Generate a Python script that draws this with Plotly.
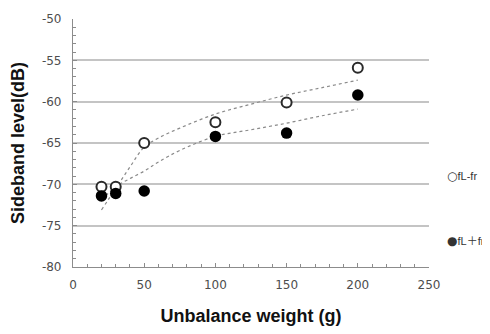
import plotly.graph_objects as go

# ---- data ----
weights = [20, 30, 50, 100, 150, 200]
fl_minus_fr = [-70.3, -70.3, -65.0, -62.5, -60.1, -55.9]
fl_plus_fr = [-71.4, -71.1, -70.8, -64.2, -63.8, -59.2]

trend_x = [20, 30, 40, 50, 60, 75, 100, 125, 150, 175, 200]
trend_minus = [-73.1, -70.5, -67.9, -65.5, -64.4, -63.2, -61.5, -60.3, -59.2, -58.3, -57.4]
trend_plus = [-71.9, -70.3, -69.3, -68.4, -67.3, -65.9, -64.2, -63.4, -62.6, -61.7, -60.9]

y_tick_vals = [-80, -75, -70, -65, -60, -55, -50]
y_tick_text = ["-80", "-75", "-70", "-65", "-60", "-55", "-50"]
x_tick_vals = [0, 50, 100, 150, 200, 250]
x_tick_text = ["0", "50", "100", "150", "200", "250"]

legend_symbols = ["\u25cb", "\u25cf"]
legend_labels = ["fL-fr", "fL\uff0bfr"]
legend_y = [-69.0, -76.9]

FONT = "DejaVu Sans, Arial, sans-serif"
TITLE_FONT = "Liberation Sans, Arial, sans-serif"
LEGEND_FONT = "Liberation Sans, Noto Sans CJK JP, sans-serif"

fig = go.Figure()

fig.add_trace(go.Scatter(
    x=trend_x, y=trend_minus, mode="lines", line_shape="spline",
    line=dict(color="#8a8a8a", width=1.2, dash="3px,3px"),
    showlegend=False, hoverinfo="skip"))
fig.add_trace(go.Scatter(
    x=trend_x, y=trend_plus, mode="lines", line_shape="spline",
    line=dict(color="#8a8a8a", width=1.2, dash="3px,3px"),
    showlegend=False, hoverinfo="skip"))

fig.add_trace(go.Scatter(
    x=weights, y=fl_minus_fr, mode="markers", name="fL-fr",
    marker=dict(symbol="circle", size=10, color="white",
                line=dict(color="#2a2a2a", width=2)),
    showlegend=False))
fig.add_trace(go.Scatter(
    x=weights, y=fl_plus_fr, mode="markers", name="fL+fr",
    marker=dict(symbol="circle", size=11.5, color="black",
                line=dict(color="black", width=0)),
    showlegend=False))

for sym, lbl, ly in zip(legend_symbols, legend_labels, legend_y):
    fig.add_annotation(
        x=1.045, xref="paper", xanchor="left", y=ly, yref="y",
        text='<span style="font-family:DejaVu Sans;font-size:12px">' + sym + '</span>' + lbl,
        showarrow=False,
        font=dict(family=LEGEND_FONT, size=11, color="#333333"))

fig.update_layout(
    width=482, height=326,
    margin=dict(l=65, r=61, t=11, b=67),
    paper_bgcolor="white", plot_bgcolor="white",
    font=dict(family=FONT, size=12, color="#4d4d4d"),
    showlegend=False,
    xaxis=dict(
        range=[0, 250], tickvals=x_tick_vals, ticktext=x_tick_text,
        showgrid=False, zeroline=False, automargin=False,
        showline=True, linecolor="#8c8c8c", linewidth=1.2,
        ticks="inside", ticklen=4, tickcolor="#8c8c8c", tickwidth=1,
        ticklabelstandoff=6,
        minor=dict(dtick=10, ticks="inside", ticklen=3, tickcolor="#8c8c8c", showgrid=False),
        tickfont=dict(family=FONT, size=12, color="#4d4d4d"),
        title=dict(text="<b>Unbalance weight (g)</b>", standoff=18,
                   font=dict(family=TITLE_FONT, size=18, color="#111111")),
    ),
    yaxis=dict(
        range=[-80, -50], tickvals=y_tick_vals, ticktext=y_tick_text,
        showgrid=True, gridcolor="#c4c4c4", gridwidth=1.5,
        zeroline=False, automargin=False,
        showline=True, linecolor="#8c8c8c", linewidth=1.2,
        ticks="inside", ticklen=4, tickcolor="#8c8c8c", tickwidth=1,
        ticklabelstandoff=8,
        minor=dict(dtick=1, ticks="inside", ticklen=3, tickcolor="#8c8c8c", showgrid=False),
        tickfont=dict(family=FONT, size=12, color="#4d4d4d"),
        title=dict(text="<b>Sideband level(dB)</b>", standoff=12,
                   font=dict(family=TITLE_FONT, size=18, color="#111111")),
    ),
)

fig.write_html("out.html")
